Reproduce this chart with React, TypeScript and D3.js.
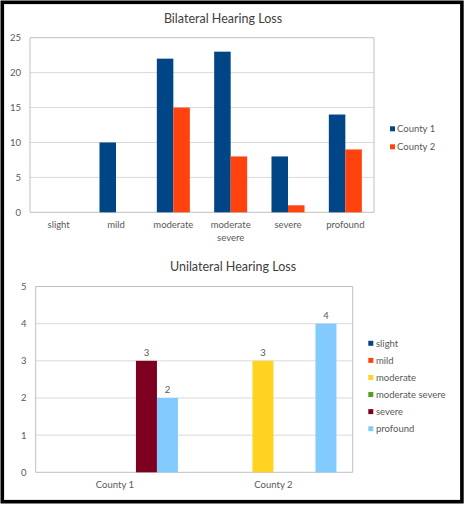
import React from "react";
import * as d3 from "d3";

const levels = ["slight", "mild", "moderate", "moderate severe", "severe", "profound"];
const levelLabels = [["slight"], ["mild"], ["moderate"], ["moderate", "severe"], ["severe"], ["profound"]];
const counties = ["County 1", "County 2"];
const bilateralCounty1 = [0, 10, 22, 23, 8, 14];
const bilateralCounty2 = [0, 0, 15, 8, 1, 9];
// unilateral: values per level, per county [County1, County2]
const unilateralBySeverity = [
  [0, 0],
  [0, 0],
  [0, 3],
  [0, 0],
  [3, 0],
  [2, 4],
];
const bilateralTicks = [0, 5, 10, 15, 20, 25];
const unilateralTicks = [0, 1, 2, 3, 4, 5];
const countyColors = ["#004586", "#ff420e"];
const levelColors = ["#004586", "#ff420e", "#ffd320", "#579d1c", "#7e0021", "#83caff"];

const FONT = "Lato, 'Open Sans', sans-serif";
const TXT = "#595959";

function Bilateral() {
  const left = 30, right = 374, top = 37.7, bottom = 212.3;
  const x = d3.scaleBand<string>().domain(levels).range([left, right]).paddingInner(0).paddingOuter(0);
  const y = d3.scaleLinear().domain([0, 25]).range([bottom, top]);
  const bw = 16.5;
  const series = [bilateralCounty1, bilateralCounty2];
  return (
    <g>
      <text x={223} y={18.5} textAnchor="middle" dominantBaseline="central" fontSize={12.5} fill="#404040" fontFamily={FONT}>
        Bilateral Hearing Loss
      </text>
      {bilateralTicks.map((t) => (
        <g key={t}>
          <line x1={left} x2={right} y1={y(t)} y2={y(t)} stroke={t === 0 || t === 25 ? "#c0c0c0" : "#d9d9d9"} strokeWidth={1} />
          <text x={21} y={y(t)} textAnchor="end" dominantBaseline="central" fontSize={9.5} fill={TXT} fontFamily={FONT}>
            {t}
          </text>
        </g>
      ))}
      <line x1={left} x2={left} y1={top} y2={bottom} stroke="#c0c0c0" />
      <line x1={right} x2={right} y1={top} y2={bottom} stroke="#c0c0c0" />
      {levels.map((lv, i) => {
        const c = (x(lv) as number) + x.bandwidth() / 2;
        return (
          <g key={lv}>
            {series.map((s, j) =>
              s[i] > 0 ? (
                <rect key={j} x={c - bw + j * bw} y={y(s[i])} width={bw} height={bottom - y(s[i])} fill={countyColors[j]} />
              ) : null
            )}
            {levelLabels[i].map((ln, k) => (
              <text key={k} x={c} y={224.5 + k * 13} textAnchor="middle" dominantBaseline="central" fontSize={9.5} fill={TXT} fontFamily={FONT}>
                {ln}
              </text>
            ))}
          </g>
        );
      })}
      {counties.map((cn, j) => (
        <g key={cn}>
          <rect x={390} y={128.8 + j * 18 - 2.5} width={5} height={5} fill={countyColors[j]} />
          <text x={397} y={128.8 + j * 18} dominantBaseline="central" fontSize={9.5} fill={TXT} fontFamily={FONT}>
            {cn}
          </text>
        </g>
      ))}
    </g>
  );
}

function Unilateral() {
  const left = 35.7, right = 352.7, top = 286.5, bottom = 472.3;
  const x0 = d3.scaleBand<string>().domain(counties).range([left, right]);
  const y = d3.scaleLinear().domain([0, 5]).range([bottom, top]);
  const bw = 21;
  return (
    <g>
      <text x={233} y={266.5} textAnchor="middle" dominantBaseline="central" fontSize={12.5} fill="#404040" fontFamily={FONT}>
        Unilateral Hearing Loss
      </text>
      {unilateralTicks.map((t) => (
        <g key={t}>
          <line x1={left} x2={right} y1={y(t)} y2={y(t)} stroke={t === 0 || t === 5 ? "#c0c0c0" : "#d9d9d9"} strokeWidth={1} />
          <text x={26.5} y={y(t)} textAnchor="end" dominantBaseline="central" fontSize={9.5} fill={TXT} fontFamily={FONT}>
            {t}
          </text>
        </g>
      ))}
      <line x1={left} x2={left} y1={top} y2={bottom} stroke="#c0c0c0" />
      <line x1={right} x2={right} y1={top} y2={bottom} stroke="#c0c0c0" />
      {counties.map((cn, ci) => {
        const c = (x0(cn) as number) + x0.bandwidth() / 2;
        const x1 = d3.scaleBand<string>().domain(levels).range([c - 3 * bw, c + 3 * bw]);
        return (
          <g key={cn}>
            {levels.map((lv, li) => {
              const v = unilateralBySeverity[li][ci];
              if (v <= 0) return null;
              const bx = x1(lv) as number;
              return (
                <g key={lv}>
                  <rect x={bx} y={y(v)} width={x1.bandwidth()} height={bottom - y(v)} fill={levelColors[li]} />
                  <text x={bx + x1.bandwidth() / 2} y={y(v) - 8.5} textAnchor="middle" dominantBaseline="central" fontSize={9.5} fill={TXT} fontFamily={FONT}>
                    {v}
                  </text>
                </g>
              );
            })}
            <text x={c} y={484.5} textAnchor="middle" dominantBaseline="central" fontSize={9.5} fill={TXT} fontFamily={FONT}>
              {cn}
            </text>
          </g>
        );
      })}
      {levels.map((lv, li) => (
        <g key={lv}>
          <rect x={368.3} y={343.3 + li * 17.08 - 2.5} width={5} height={5} fill={levelColors[li]} />
          <text x={376} y={343.3 + li * 17.08} dominantBaseline="central" fontSize={9.5} fill={TXT} fontFamily={FONT}>
            {lv}
          </text>
        </g>
      ))}
    </g>
  );
}

export default function App() {
  return (
    <svg width={466} height={506} style={{ position: "absolute", left: 0, top: 0, display: "block" }}>
      <rect x={0} y={0} width={466} height={506} fill="#ffffff" />
      <rect x={2.3} y={2.3} width={459.6} height={499.4} fill="#ffffff" stroke="#000000" strokeWidth={3.6} />
      <Bilateral />
      <Unilateral />
    </svg>
  );
}
